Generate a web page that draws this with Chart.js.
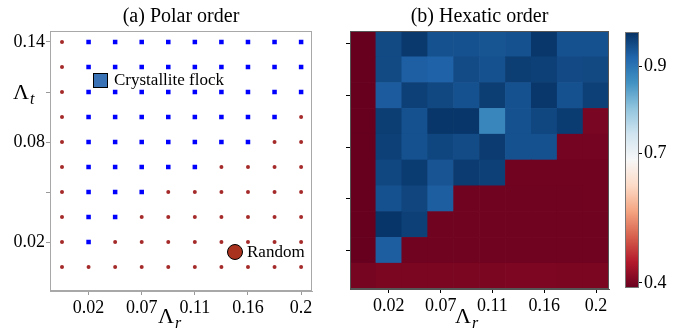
<!DOCTYPE html>
<html>
<head>
<meta charset="utf-8">
<script src="https://cdn.jsdelivr.net/npm/chart.js@4.4.1/dist/chart.umd.min.js"></script>
<style>
  html, body { margin: 0; padding: 0; background: #fff; }
  #wrap { position: relative; width: 685px; height: 333px; overflow: hidden; }
  canvas { position: absolute; top: 0; }
</style>
</head>
<body>
<div id="wrap">
  <canvas id="polar" width="330" height="333" style="left:0"></canvas>
  <canvas id="hexatic" width="290" height="333" style="left:330px"></canvas>
  <canvas id="cbar" width="65" height="333" style="left:620px"></canvas>
</div>
<script>
// grid positions (column / row index), rows listed top to bottom
const cols = [1, 2, 3, 4, 5, 6, 7, 8, 9, 10];
const rows = [10, 9, 8, 7, 6, 5, 4, 3, 2, 1];

const xTickPos = [2, 4, 6, 8, 10];
const xTickLabels = ['0.02', '0.07', '0.11', '0.16', '0.2'];
const yTickPos = [2, 4, 6, 8, 10];
const yTickLabels = ['0.02', '', '0.08', '', '0.14'];

// (a) polar order: F = crystallite flock, R = random
const polarPhase = [
  'RFFFFFFFFF',
  'RFFFFFFFFF',
  'RFFFFFFFFF',
  'RFFFFFFFFR',
  'RFFFFFFFRR',
  'RFFFFFRRRR',
  'RFFFRRRRRR',
  'RFFRRRRRRR',
  'RFRRRRRRRR',
  'RRRRRRRRRR',
];

// (b) hexatic order, rows top to bottom
const hexatic = [
  [0.385, 0.952, 0.970, 0.944, 0.944, 0.941, 0.944, 0.972, 0.944, 0.944],
  [0.385, 0.952, 0.928, 0.925, 0.950, 0.944, 0.965, 0.963, 0.951, 0.953],
  [0.385, 0.932, 0.962, 0.954, 0.944, 0.965, 0.944, 0.972, 0.944, 0.962],
  [0.385, 0.966, 0.944, 0.973, 0.973, 0.879, 0.944, 0.955, 0.967, 0.402],
  [0.385, 0.962, 0.944, 0.956, 0.950, 0.968, 0.944, 0.944, 0.398, 0.398],
  [0.385, 0.955, 0.967, 0.940, 0.968, 0.962, 0.396, 0.396, 0.396, 0.396],
  [0.385, 0.944, 0.957, 0.930, 0.395, 0.395, 0.395, 0.395, 0.395, 0.396],
  [0.385, 0.974, 0.963, 0.395, 0.395, 0.395, 0.395, 0.395, 0.395, 0.395],
  [0.385, 0.930, 0.395, 0.395, 0.395, 0.395, 0.395, 0.395, 0.395, 0.395],
  [0.400, 0.403, 0.403, 0.404, 0.404, 0.404, 0.405, 0.405, 0.404, 0.404],
];

const cbarMin = 0.388;
const cbarMax = 0.98;
const cbarTicks = [0.4, 0.7, 0.9];

const SERIF = "'Liberation Serif', 'Times New Roman', serif";
const RDBU = ['#67001f', '#b2182b', '#d6604d', '#f4a582', '#fddbc7', '#f7f7f7',
  '#d1e5f0', '#92c5de', '#4393c3', '#2166ac', '#053061'];

function hexToRgb(h) {
  return [1, 3, 5].map((i) => parseInt(h.slice(i, i + 2), 16));
}

function rdbu(v) {
  let t = (v - cbarMin) / (cbarMax - cbarMin);
  t = Math.max(0, Math.min(1, t)) * (RDBU.length - 1);
  const i = Math.min(Math.floor(t), RDBU.length - 2);
  const f = t - i;
  const a = hexToRgb(RDBU[i]);
  const b = hexToRgb(RDBU[i + 1]);
  const c = a.map((x, k) => Math.round(x + (b[k] - x) * f));
  return `rgb(${c[0]},${c[1]},${c[2]})`;
}

function drawLambda(ctx, x, y, sub) {
  ctx.save();
  ctx.fillStyle = '#000';
  ctx.textBaseline = 'alphabetic';
  ctx.textAlign = 'left';
  ctx.font = `22px ${SERIF}`;
  ctx.fillText('\u039B', x, y);
  const w = ctx.measureText('\u039B').width;
  ctx.font = `italic 16px ${SERIF}`;
  ctx.fillText(sub, x + w + 1, y + 5);
  ctx.restore();
}

const framePlugin = {
  id: 'frame',
  afterDraw(chart, args, opts) {
    const { ctx, chartArea: a } = chart;
    ctx.save();
    ctx.strokeStyle = opts.color || '#999';
    ctx.lineWidth = 1;
    ctx.strokeRect(a.left + 0.5, a.top + 0.5, a.right - a.left - 1, a.bottom - a.top - 1);
    ctx.restore();
  },
};

const polarDecor = {
  id: 'polarDecor',
  afterDraw(chart) {
    const ctx = chart.ctx;
    ctx.save();
    // legend entries
    ctx.fillStyle = '#3a73b5';
    ctx.strokeStyle = '#000';
    ctx.lineWidth = 1;
    ctx.fillRect(93, 73, 15, 15);
    ctx.strokeRect(93.5, 73.5, 14, 14);
    ctx.beginPath();
    ctx.arc(235, 252, 7.5, 0, Math.PI * 2);
    ctx.fillStyle = '#a8321e';
    ctx.fill();
    ctx.stroke();
    ctx.fillStyle = '#000';
    ctx.font = `17px ${SERIF}`;
    ctx.textBaseline = 'middle';
    ctx.fillText('Crystallite flock', 114, 81);
    ctx.fillText('Random', 247, 253);
    ctx.restore();
    drawLambda(ctx, 13, 99, 't');
    drawLambda(ctx, 158, 323, 'r');
  },
};

const hexDecor = {
  id: 'hexDecor',
  afterDraw(chart) {
    drawLambda(chart.ctx, 125, 323, 'r');
  },
};

const tickFont = { family: SERIF, size: 18 };
const titleFont = { family: SERIF, size: 20, weight: 'normal' };

// ---- (a) polar order scatter
const flockPts = [];
const randomPts = [];
polarPhase.forEach((row, r) => {
  row.split('').forEach((c, i) => {
    const p = { x: cols[i], y: rows[r] };
    (c === 'F' ? flockPts : randomPts).push(p);
  });
});

new Chart(document.getElementById('polar'), {
  type: 'scatter',
  data: {
    datasets: [
      { label: 'Crystallite flock', data: flockPts, pointStyle: 'rect', pointRadius: 3.2, backgroundColor: '#0000ff', borderWidth: 0 },
      { label: 'Random', data: randomPts, pointStyle: 'circle', pointRadius: 2, backgroundColor: '#a52a2a', borderWidth: 0 },
    ],
  },
  options: {
    responsive: false,
    animation: false,
    events: [],
    layout: { padding: { left: 0, right: 18, top: 0, bottom: 0 } },
    plugins: {
      legend: { display: false },
      tooltip: { enabled: false },
      title: { display: true, text: '(a) Polar order', fullSize: false, font: titleFont, color: '#000', padding: { top: 5, bottom: 2 } },
      frame: { color: '#a8a8a8' },
    },
    scales: {
      x: {
        type: 'linear', min: 0.548, max: 10.41,
        afterBuildTicks: (s) => { s.ticks = xTickPos.map((v) => ({ value: v })); },
        afterFit: (s) => { s.height = 42; },
        ticks: { callback: (v, i) => xTickLabels[i], font: tickFont, color: '#000', padding: 2, maxRotation: 0, autoSkip: false },
        grid: { drawOnChartArea: false, tickLength: 4, color: '#999' },
        border: { color: '#a8a8a8' },
      },
      y: {
        type: 'linear', min: 0.04, max: 10.44,
        afterBuildTicks: (s) => { s.ticks = yTickPos.map((v) => ({ value: v })); },
        afterFit: (s) => { s.width = 50; },
        ticks: { callback: (v, i) => yTickLabels[i], font: tickFont, color: '#000', padding: 1, autoSkip: false },
        grid: { drawOnChartArea: false, tickLength: 4, color: '#999' },
        border: { color: '#a8a8a8' },
      },
    },
  },
  plugins: [framePlugin, polarDecor],
});

// ---- (b) hexatic order heatmap (stacked unit bars, one dataset per row)
const hexDatasets = [];
for (let r = hexatic.length - 1; r >= 0; r--) {
  hexDatasets.push({
    label: 'row ' + rows[r],
    data: cols.map(() => 1),
    backgroundColor: hexatic[r].map(rdbu),
    borderWidth: 0,
    barPercentage: 1,
    categoryPercentage: 1,
  });
}

new Chart(document.getElementById('hexatic'), {
  type: 'bar',
  data: { labels: cols.map(String), datasets: hexDatasets },
  options: {
    responsive: false,
    animation: false,
    events: [],
    layout: { padding: { left: 0, right: 11, top: 0, bottom: 0 } },
    plugins: {
      legend: { display: false },
      tooltip: { enabled: false },
      title: { display: true, text: '(b) Hexatic order', fullSize: false, font: titleFont, color: '#000', padding: { top: 5, bottom: 2 } },
      frame: { color: '#555' },
    },
    scales: {
      x: {
        stacked: true,
        afterBuildTicks: (s) => { s.ticks = s.ticks.filter((t) => xTickPos.includes(cols[t.value])); },
        afterFit: (s) => { s.height = 44; },
        ticks: { callback: (v, i) => xTickLabels[i], font: tickFont, color: '#000', padding: 2, maxRotation: 0, autoSkip: false },
        grid: { drawOnChartArea: false, offset: false, tickLength: 4, color: '#000' },
        border: { color: '#555' },
      },
      y: {
        stacked: true, min: 0, max: 10,
        afterBuildTicks: (s) => { s.ticks = yTickPos.map((v) => ({ value: v - 0.5 })); },
        afterFit: (s) => { s.width = 20; },
        ticks: { callback: () => '', autoSkip: false },
        grid: { drawOnChartArea: false, tickLength: 4, color: '#000' },
        border: { color: '#555' },
      },
    },
  },
  plugins: [framePlugin, hexDecor],
});

// ---- colorbar
new Chart(document.getElementById('cbar'), {
  type: 'bar',
  data: {
    labels: [''],
    datasets: [{
      data: [[cbarMin, cbarMax]],
      barPercentage: 1,
      categoryPercentage: 1,
      borderWidth: 0,
      backgroundColor: (c) => {
        const area = c.chart.chartArea;
        if (!area) return '#fff';
        const ys = c.chart.scales.y;
        const g = c.chart.ctx.createLinearGradient(0, ys.getPixelForValue(cbarMin), 0, ys.getPixelForValue(cbarMax));
        RDBU.forEach((col, i) => g.addColorStop(i / (RDBU.length - 1), col));
        return g;
      },
    }],
  },
  options: {
    responsive: false,
    animation: false,
    events: [],
    layout: { padding: { left: 5, right: 0, top: 32, bottom: 45 } },
    plugins: { legend: { display: false }, tooltip: { enabled: false }, frame: { color: '#777' } },
    scales: {
      x: { display: false },
      y: {
        position: 'right', min: cbarMin, max: cbarMax,
        afterBuildTicks: (s) => { s.ticks = cbarTicks.map((v) => ({ value: v })); },
        afterFit: (s) => { s.width = 46; },
        ticks: { callback: (v) => String(v), font: tickFont, color: '#000', padding: 2, autoSkip: false },
        grid: { drawOnChartArea: false, tickLength: 3, color: '#000' },
        border: { display: false },
      },
    },
  },
  plugins: [framePlugin],
});
</script>
</body>
</html>
